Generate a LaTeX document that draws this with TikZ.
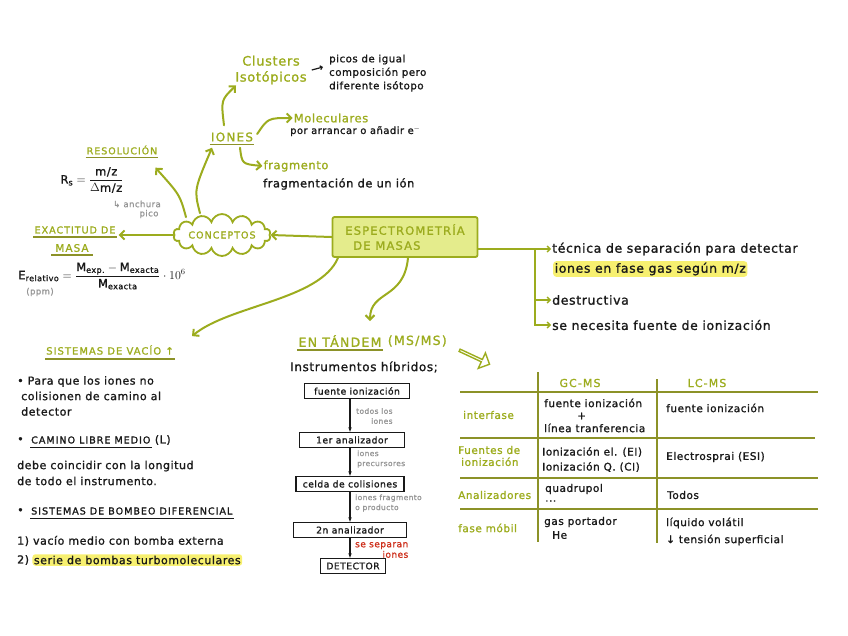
\documentclass[tikz,border=0pt]{standalone}
\usepackage{fontspec}
\usepackage{amsmath}
\setmainfont{DejaVu Sans}[LetterSpace=5,FakeBold=1.3]
\newfontfamily\capsfont{DejaVu Sans}[LetterSpace=10,FakeBold=1.3]
\usetikzlibrary{arrows.meta,positioning,shapes.symbols,shapes.arrows}
\definecolor{moss}{RGB}{156,172,30}
\definecolor{mossfill}{RGB}{228,236,140}
\definecolor{grid}{RGB}{140,146,40}
\definecolor{ink}{RGB}{25,25,25}
\definecolor{pencil}{RGB}{150,150,150}
\definecolor{redink}{RGB}{205,45,25}
\definecolor{hilite}{RGB}{247,240,112}

\begin{document}
\begin{tikzpicture}[x=1pt,y=-1pt,
 every node/.style={font=\fontsize{11}{13}\selectfont,text=ink,inner sep=1pt},
 branch/.style={moss,line width=2pt,line cap=round,-{Straight Barb[length=4.5pt,width=9pt]}},
 twig/.style={moss,line width=1.4pt,line cap=round,-{Straight Barb[length=3pt,width=6pt]}},
 heading/.style={text=moss,font=\capsfont\fontsize{#1}{#1}\selectfont},
 heading/.default=10,
 capsink/.style={text=ink,font=\capsfont\fontsize{9.6}{11}\selectfont},
 topic/.style={text=moss,font=\fontsize{#1}{#1}\selectfont},
 topic/.default=11.5,
 under/.style={grid,line width=1.4pt},
 stage/.style={draw=ink,line width=1.4pt,fill=white,inner xsep=6pt,minimum height=15pt,
   font=\fontsize{9.2}{10}\selectfont},
 flow/.style={ink,line width=1.1pt,-{Stealth[length=4.5pt]}},
 note/.style={text=pencil,font=\fontsize{7.5}{10}\selectfont},
 cell/.style={anchor=west,font=\fontsize{10.5}{12}\selectfont},
 rowhead/.style={text=moss,anchor=west,font=\fontsize{10.5}{12}\selectfont},
 marker/.style={fill=hilite,rounded corners=3pt,inner sep=1.5pt}]
 \path[use as bounding box] (0,0) rectangle (848,635);
 % centre of the map
 \node[draw=moss,fill=mossfill,line width=1.8pt,rounded corners=2pt,minimum width=145pt,
   minimum height=40pt,align=left,heading=11.5,font=\capsfont\fontsize{11.5}{15}\selectfont]
   (ms) at (405,237) {ESPECTROMETRÍA\\\hspace*{8pt}DE MASAS};
 \node[draw=moss,fill=white,line width=1.8pt,cloud,cloud puffs=14,aspect=3.6,inner sep=0pt,
   minimum width=97pt,minimum height=31pt,heading=9.6] (concepts) at (222,235) {CONCEPTOS};
 \draw[branch] (ms.west) -- (concepts.east);
 % definition on the right
 \coordinate (fork) at (535,249);
 \node[anchor=west,font=\fontsize{12.5}{14}\selectfont] (sep) at (551,249)
   {técnica de separación para detectar};
 \node[anchor=west,marker,font=\fontsize{12.5}{14}\selectfont] (gas) at (553,269)
   {iones en fase gas según m/z};
 \node[anchor=west,font=\fontsize{12.5}{14}\selectfont] (destr) at (551,300) {destructiva};
 \node[anchor=west,font=\fontsize{12.5}{14}\selectfont] (ionsrc) at (551,325)
   {se necesita fuente de ionización};
 \draw[twig,-] (ms.east |- fork) -- (fork);
 \draw[twig] (fork) -- (sep.west);
 \draw[twig] (fork) |- (destr.west);
 \draw[twig] (fork) |- (ionsrc.west);
 % exactitud de masa
 \node[heading=9.6] (exact) at (75,230) {EXACTITUD DE};
 \node[heading=10.4] (masa) at (72,248) {MASA};
 \draw[under] ([yshift=-2pt]exact.south west) -- ([yshift=-2pt]exact.south east);
 \draw[under] ([yshift=-2pt,xshift=-3pt]masa.south west) -- ([yshift=-2pt,xshift=3pt]masa.south east);
 \draw[branch] (concepts.west) -- ([xshift=2pt]concepts.west -| exact.east);
 \node[font=\fontsize{11.5}{13}\selectfont] (erel) at (102,276)
   {$\text{E}_{\text{relativo}}=\dfrac{\text{M}_{\text{exp.}}-\text{M}_{\text{exacta}}}{\text{M}_{\text{exacta}}}\cdot 10^{6}$};
 \node[note,font=\fontsize{8.5}{10}\selectfont] (ppm) at (40,292) {(ppm)};
 % resolucion
 \node[heading=9.5] (resol) at (122,150) {RESOLUCIÓN};
 \draw[under] ([yshift=-2pt]resol.south west) -- ([yshift=-2pt]resol.south east);
 \node[font=\fontsize{11.5}{13}\selectfont] (rs) at (92,180)
   {$\text{R}_{\text{s}}=\dfrac{\text{m/z}}{\Delta\text{m/z}}$};
 \node[note,font=\fontsize{8.5}{10}\selectfont] (width) at (137,204) {↳ anchura};
 \node[note,font=\fontsize{8.5}{10}\selectfont] (peak) at (149,214) {pico};
 \draw[branch] ([xshift=-36pt,yshift=-4pt]concepts.north) .. controls (180,195) ..
   ([shift={(-3pt,-12pt)}]resol.south east);
 % iones
 \node[heading=12] (ions) at (232,137) {IONES};
 \draw[under] ([yshift=-2pt]ions.south west) -- ([yshift=-2pt]ions.south east);
 \draw[branch] ([xshift=-22pt]concepts.north) .. controls (194,190) ..
   ([shift={(-20pt,-5pt)}]ions.south);
 \node[topic=13,align=center,font=\fontsize{13}{16}\selectfont] (clust) at (271,70)
   {Clusters\\Isotópicos};
 \node[anchor=west,align=left,font=\fontsize{10.2}{13.5}\selectfont] (isonote) at (328,73)
   {picos de igual\\composición pero\\diferente isótopo};
 \draw[ink,line width=1.2pt,-{Straight Barb[length=2pt,width=4pt]}]
   ([xshift=4pt]clust.east) -- ([xshift=-5pt,yshift=6pt]isonote.west);
 \draw[branch] ([xshift=-8pt,yshift=6pt]ions.north) .. controls (221,100) ..
   ([xshift=-35pt]clust.south);
 \node[topic] (molec) at (331,118) {Moleculares};
 \node[anchor=west,font=\fontsize{9.9}{11}\selectfont] (molnote) at (289,131)
   {por arrancar o añadir e$^-$};
 \draw[branch] ([xshift=3pt,yshift=3pt]ions.east) .. controls (268,118) .. (molec.west);
 \node[topic] (frag) at (296,166) {fragmento};
 \node[anchor=west,font=\fontsize{11.4}{13}\selectfont] (fragnote) at (262,184)
   {fragmentación de un ión};
 \draw[branch] ([xshift=8pt,yshift=-5pt]ions.south) .. controls (242,164) .. (frag.west);
 % sistemas de vacio
 \node[heading] (vacuum) at (110,350) {SISTEMAS DE VACÍO ↑};
 \draw[under] ([yshift=-3pt]vacuum.south west) -- ([yshift=-3pt]vacuum.south east);
 \draw[branch] ([xshift=-67pt]ms.south) .. controls (320,300) and (230,305) ..
   ([xshift=82pt,yshift=8pt]vacuum.north);
 \node[anchor=west,align=left,font=\fontsize{11}{15.5}\selectfont] (why) at (16,396)
   {• Para que los iones no\\\hspace*{4pt}colisionen de camino al\\\hspace*{4pt}detector};
 \node[anchor=west] (dot2) at (16,440) {•};
 \node[anchor=west,capsink] (freepath) at (30,440) {CAMINO LIBRE MEDIO};
 \node[right=2pt of freepath] (freeL) {(L)};
 \draw[ink,line width=1.2pt] ([yshift=-3pt]freepath.south west) -- ([yshift=-3pt]freepath.south east);
 \node[anchor=west,align=left,font=\fontsize{11}{16}\selectfont] (length) at (16,473)
   {debe coincidir con la longitud\\de todo el instrumento.};
 \node[anchor=west] (dot3) at (16,511) {•};
 \node[anchor=west,capsink] (pumping) at (30,511) {SISTEMAS DE BOMBEO DIFERENCIAL};
 \draw[ink,line width=1.2pt] ([yshift=-3pt]pumping.south west) -- ([yshift=-3pt]pumping.south east);
 \node[anchor=west] (step1) at (16,541) {1) vacío medio con bomba externa};
 \node[anchor=west] (step2) at (16,560) {2)};
 \node[marker,right=2pt of step2] (turbo) {serie de bombas turbomoleculares};
 % en tandem
 \node[heading=12.5] (tandem) at (340,341) {EN TÁNDEM};
 \node[heading=12.5,right=4pt of tandem] (msms) {(MS/MS)};
 \draw[under] ([yshift=-2pt]tandem.south west) -- ([yshift=-2pt]tandem.south east);
 \draw[branch] ([xshift=3pt]ms.south) .. controls (404,300) and (370,290) ..
   ([xshift=30pt,yshift=13pt]tandem.north);
 \node[font=\fontsize{12}{14}\selectfont] (hybrid) at (364,367) {Instrumentos híbridos;};
 \node[stage,minimum width=105pt] (src) at (357,391) {fuente ionización};
 \node[stage,minimum width=105pt] (ana1) at (352,440) {1er analizador};
 \node[stage,minimum width=108pt] (cell) at (350,484) {celda de colisiones};
 \node[stage,minimum width=113pt] (ana2) at (350,530) {2n analizador};
 \node[stage,minimum width=62pt] (det) at (353,566) {DETECTOR};
 \draw[flow] (src.south -| cell.north) -- (ana1.north -| cell.north);
 \draw[flow] (ana1.south -| cell.north) -- (cell.north);
 \draw[flow] (cell.south) -- (ana2.north -| cell.north);
 \draw[flow] (ana2.south -| cell.north) -- (det.north -| cell.north);
 \node[note,align=right,anchor=west] (allions) at (355,416) {todos los\\iones};
 \node[note,align=left,anchor=west] (prec) at (356,459) {iones\\precursores};
 \node[note,align=left,anchor=west] (prod) at (354,503) {iones fragmento\\o producto};
 \node[note,align=right,anchor=west,text=redink,font=\fontsize{9}{10.5}\selectfont] (split)
   at (354,550) {se separan\\iones};
 % comparison table
 \node[single arrow,draw=moss,line width=1.4pt,minimum height=33pt,minimum width=17pt,
   single arrow head extend=4pt,inner sep=0pt,rotate=-25] (totable) at (474,357) {};
 \draw[grid,line width=1.4pt] (538,372) -- (538,542);
 \draw[grid,line width=1.4pt] (657,379) -- (657,543);
 \foreach \y/\r in {392/818,438/815,478/818,509/818}
   \draw[grid,line width=1.4pt] (460,\y) -- (\r,\y);
 \node[heading=11] (gc) at (580,383) {GC-MS};
 \node[heading=11] (lc) at (707,383) {LC-MS};
 \node[rowhead] (iface) at (462,415) {interfase};
 \node[rowhead,align=left,font=\fontsize{10.5}{12}\selectfont] (sources) at (457,456)
   {Fuentes de\\\hspace*{3pt}ionización};
 \node[rowhead] (analyzers) at (457,495) {Analizadores};
 \node[rowhead] (mobile) at (457,528) {fase móbil};
 \node[cell] (gcif) at (543,403) {fuente ionización};
 \node[cell] (plus) at (576,416) {+};
 \node[cell] (line) at (543,428) {línea tranferencia};
 \node[cell] (ei) at (541,452) {Ionización el. (EI)};
 \node[cell] (ci) at (541,467) {Ionización Q. (CI)};
 \node[cell] (quad) at (544,489) {quadrupol};
 \node[cell] (dots) at (544,501) {...};
 \node[cell] (carrier) at (543,522) {gas portador};
 \node[cell] (he) at (551,535) {He};
 \node[cell] (lcif) at (665,408) {fuente ionización};
 \node[cell] (esi) at (665,457) {Electrosprai (ESI)};
 \node[cell] (all) at (666,495) {Todos};
 \node[cell] (liquid) at (665,523) {líquido volátil};
 \node[cell] (tension) at (665,540) {↓ tensión superficial};
\end{tikzpicture}
\end{document}
